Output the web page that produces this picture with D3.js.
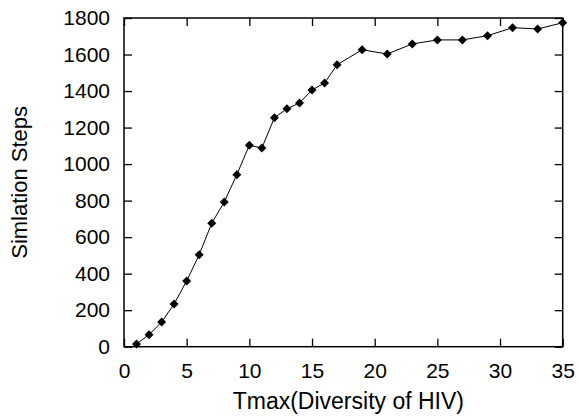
<!DOCTYPE html>
<html>
<head>
<meta charset="utf-8">
<script src="https://cdn.jsdelivr.net/npm/d3@7"></script>
<style>
  body { margin: 0; background: #fff; }
  text { font-family: "Liberation Sans", Arial, sans-serif; fill: #000; }
</style>
</head>
<body>
<div id="chart"></div>
<script>
// Tmax values and simulation steps
const tmax = [1, 2, 3, 4, 5, 6, 7, 8, 9, 10, 11, 12, 13, 14, 15, 16, 17,
              19, 21, 23, 25, 27, 29, 31, 33, 35];
const steps = [15, 66, 135, 234, 360, 504, 676, 793, 942, 1103, 1088, 1254, 1303, 1335, 1406, 1444, 1544,
               1626, 1603, 1658, 1680, 1680, 1703, 1747, 1740, 1774];
const xTicks = [0, 5, 10, 15, 20, 25, 30, 35];
const yTicks = [0, 200, 400, 600, 800, 1000, 1200, 1400, 1600, 1800];

const W = 579, H = 417;
const margin = {top: 18, right: 16.3, bottom: 70.3, left: 124};
const width = W - margin.left - margin.right;
const height = H - margin.top - margin.bottom;

const data = tmax.map((t, i) => ({x: t, y: steps[i]}));

const svg = d3.select("#chart").append("svg")
    .attr("width", W)
    .attr("height", H);

const g = svg.append("g")
    .attr("transform", `translate(${margin.left},${margin.top})`);

const x = d3.scaleLinear().domain([0, 35]).range([0, width]);
const y = d3.scaleLinear().domain([0, 1800]).range([height, 0]);

const tickLen = 8;

// bottom axis with inward ticks
const xAxis = g.append("g")
    .attr("transform", `translate(0,${height})`)
    .call(d3.axisBottom(x).tickValues(xTicks).tickSize(-tickLen).tickPadding(16).tickFormat(d3.format("d")));
// top mirrored ticks
const xTop = g.append("g")
    .call(d3.axisTop(x).tickValues(xTicks).tickSize(-tickLen).tickFormat(""));

const yAxis = g.append("g")
    .call(d3.axisLeft(y).tickValues(yTicks).tickSize(-tickLen).tickPadding(14).tickFormat(d3.format("d")));
const yRight = g.append("g")
    .attr("transform", `translate(${width},0)`)
    .call(d3.axisRight(y).tickValues(yTicks).tickSize(-tickLen).tickFormat(""));

[xAxis, xTop, yAxis, yRight].forEach(a => {
    a.select(".domain").remove();
    a.selectAll(".tick line").attr("stroke", "#000").attr("stroke-width", 1.3);
    a.selectAll("text").style("font-size", "21px").attr("fill", "#000");
});

// frame
g.append("rect")
    .attr("x", 0).attr("y", 0)
    .attr("width", width).attr("height", height)
    .attr("fill", "none")
    .attr("stroke", "#000")
    .attr("stroke-width", 1.5);

// line
const line = d3.line()
    .x(d => x(d.x))
    .y(d => y(d.y));

g.append("path")
    .datum(data)
    .attr("fill", "none")
    .attr("stroke", "#000")
    .attr("stroke-width", 1)
    .attr("d", line);

// diamond markers
g.selectAll(".pt")
    .data(data)
    .enter().append("path")
    .attr("class", "pt")
    .attr("d", "M0,-4.5L4.5,0L0,4.5L-4.5,0Z")
    .attr("transform", d => `translate(${x(d.x)},${y(d.y)})`)
    .attr("fill", "#000");

// axis labels
svg.append("text")
    .attr("x", margin.left + width / 2 + 5)
    .attr("y", 409)
    .attr("text-anchor", "middle")
    .style("font-size", "23px")
    .text("Tmax(Diversity of HIV)");

svg.append("text")
    .attr("transform", `translate(27,${margin.top + height / 2}) rotate(-90)`)
    .attr("text-anchor", "middle")
    .style("font-size", "22px")
    .text("Simlation Steps");
</script>
</body>
</html>
